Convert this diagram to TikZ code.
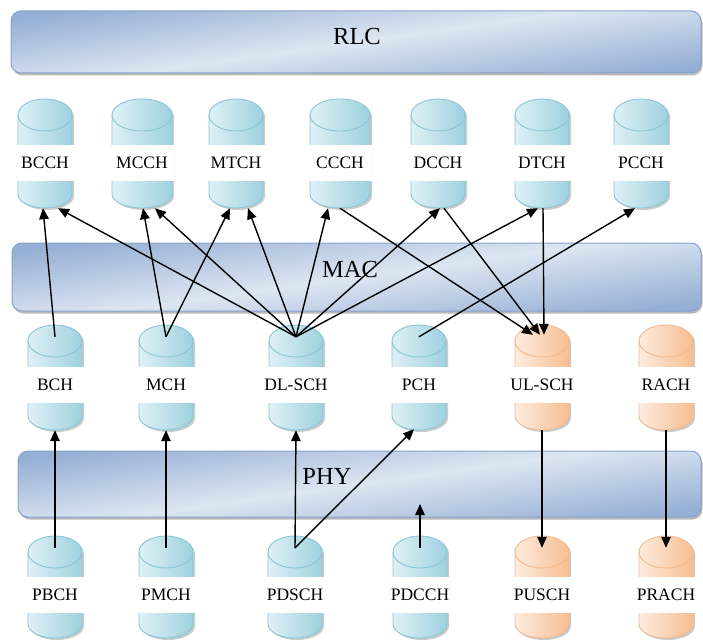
\documentclass[tikz,border=0pt]{standalone}
\usepackage{fontspec}
\setmainfont{Liberation Serif}
\usetikzlibrary{arrows.meta,shadows}

\definecolor{cylLight}{RGB}{222,241,246}
\definecolor{cylDark}{RGB}{158,209,223}
\definecolor{cylLine}{RGB}{138,197,214}
\definecolor{orLight}{RGB}{254,236,221}
\definecolor{orDark}{RGB}{247,190,146}
\definecolor{orLine}{RGB}{244,184,140}
\definecolor{barLight}{RGB}{221,230,242}
\definecolor{barDark}{RGB}{150,176,213}
\definecolor{barLine}{RGB}{135,163,205}

% one channel: colour prefix, name, x, y, width, height
\newcommand\chan[6][cyl]{%
  \pgfmathsetmacro\chanL{#3-#5/2}%
  \pgfmathsetmacro\chanR{#3+#5/2}%
  \pgfmathsetmacro\chanT{#4-#6/2+16}%
  \pgfmathsetmacro\chanB{#4+#6/2-14}%
  \path[chanbody,draw=#1Line,left color=#1Light,right color=#1Dark]
    (\chanL,\chanT) -- (\chanL,\chanB)
    arc[start angle=180,end angle=0,x radius=#5/2,y radius=14]
    -- (\chanR,\chanT)
    arc[start angle=0,end angle=-180,x radius=#5/2,y radius=16] -- cycle;
  \draw[chanedge,draw=#1Line] (\chanL,\chanT)
    arc[start angle=180,end angle=0,x radius=#5/2,y radius=16];
  \node[chanbox,minimum width=#5pt,minimum height=#6pt] (#2) at (#3,#4) {};
}

\begin{document}
\begin{tikzpicture}
  [x=1pt,y=-1pt,
   layer/.style={rectangle,rounded corners=10pt,draw=barLine,line width=1pt,
     top color=barDark,bottom color=barDark,middle color=barLight,shading angle=8,
     drop shadow={shadow xshift=1.5pt,shadow yshift=-2.5pt,fill=black!55,opacity=.5}},
   layertext/.style={font=\fontsize{24.5}{28}\selectfont},
   chanbody/.style={line width=.9pt,
     drop shadow={shadow xshift=2pt,shadow yshift=-2pt,fill=black!45,opacity=.45}},
   chanedge/.style={line width=.9pt},
   chanbox/.style={rectangle,inner sep=0pt},
   chanlabel/.style={fill=white,inner sep=0pt,minimum width=60pt,minimum height=36pt,
     font=\fontsize{17.5}{20}\selectfont},
   arr/.style={-{Triangle[length=11pt,width=9.5pt]},line width=1.4pt}]
  \useasboundingbox (0,0) rectangle (703,639);

  % layers
  \node[layer,minimum width=690pt,minimum height=62pt] (rlc) at (356,42) {};
  \node[layer,minimum width=689pt,minimum height=68pt] (mac) at (356.5,277) {};
  \node[layer,minimum width=683pt,minimum height=66pt] (phy) at (359.5,484) {};
  \node[layertext] (rlc-t) at (357,37) {RLC};
  \node[layertext] (mac-t) at (350,270) {MAC};
  \node[layertext] (phy-t) at (327,476) {PHY};

  % logical channels
  \chan{bcch}{45}{153.5}{54}{109}
  \chan{mcch}{142}{153.5}{60}{109}
  \chan{mtch}{236}{153.5}{54}{109}
  \chan{ccch}{340}{153.5}{60}{109}
  \chan{dcch}{438}{153.5}{54}{109}
  \chan{dtch}{542}{153.5}{54}{109}
  \chan{pcch}{641}{153.5}{54}{109}
  \node[chanlabel] (bcch-t) at (45,163) {BCCH};
  \node[chanlabel,minimum width=64pt] (mcch-t) at (142,163) {MCCH};
  \node[chanlabel] (mtch-t) at (236,163) {MTCH};
  \node[chanlabel,minimum width=64pt] (ccch-t) at (340,163) {CCCH};
  \node[chanlabel] (dcch-t) at (438,163) {DCCH};
  \node[chanlabel] (dtch-t) at (542,163) {DTCH};
  \node[chanlabel] (pcch-t) at (641,163) {PCCH};

  % transport channels
  \chan{bch}{55}{377.5}{54}{105}
  \chan{mch}{166}{377.5}{54}{105}
  \chan{dlsch}{296}{377.5}{54}{105}
  \chan{pch}{419}{377.5}{54}{105}
  \chan[or]{ulsch}{542}{377.5}{54}{105}
  \chan[or]{rach}{666}{377.5}{54}{105}
  \node[chanlabel] (bch-t) at (55,385) {BCH};
  \node[chanlabel] (mch-t) at (166,385) {MCH};
  \node[chanlabel] (dlsch-t) at (296,385) {DL-SCH};
  \node[chanlabel] (pch-t) at (419,385) {PCH};
  \node[chanlabel] (ulsch-t) at (542,385) {UL-SCH};
  \node[chanlabel] (rach-t) at (666,385) {RACH};

  % physical channels
  \chan{pbch}{55}{587}{54}{102}
  \chan{pmch}{166}{587}{54}{102}
  \chan{pdsch}{295}{587}{54}{102}
  \chan{pdcch}{420}{587}{54}{102}
  \chan[or]{pusch}{542}{587}{54}{102}
  \chan[or]{prach}{666}{587}{54}{102}
  \node[chanlabel] (pbch-t) at (55,595) {PBCH};
  \node[chanlabel] (pmch-t) at (166,595) {PMCH};
  \node[chanlabel,minimum width=64pt] (pdsch-t) at (295,595) {PDSCH};
  \node[chanlabel,minimum width=64pt] (pdcch-t) at (420,595) {PDCCH};
  \node[chanlabel] (pusch-t) at (542,595) {PUSCH};
  \node[chanlabel] (prach-t) at (666,595) {PRACH};
  \coordinate (pdcch-in) at (420,504);

  % PHY -> MAC
  \foreach \from/\to in {pbch/bch,pmch/mch,pdsch/dlsch}
    \draw[arr] ([yshift=-12pt]\from.north) -- (\to.south);
  \draw[arr] ([yshift=-12pt]pdsch.north) -- ([xshift=-5pt,yshift=1pt]pch.south);
  \draw[arr] ([yshift=-12pt]pdcch.north) -- (pdcch-in);
  % MAC -> PHY
  \foreach \from/\to in {ulsch/pusch,rach/prach}
    \draw[arr] (\from.south) -- ([yshift=-12pt]\to.north);

  % MAC -> RLC
  \draw[arr] ([yshift=-12pt]bch.north) -- ([xshift=-2pt]bcch.south);
  \foreach \to/\dx in {mcch/1,mtch/-6}
    \draw[arr] ([yshift=-12pt]mch.north) -- ([xshift=\dx pt]\to.south);
  \foreach \to/\dx in {bcch/13,mcch/13,mtch/12,ccch/-12,dcch/2,dtch/-4}
    \draw[arr] ([yshift=-12pt]dlsch.north) -- ([xshift=\dx pt]\to.south);
  \draw[arr] ([yshift=-12pt]pch.north) -- ([xshift=-6pt]pcch.south);
  % RLC -> MAC
  \foreach \from/\fx/\dx in {ccch/0/-9,dcch/6/-2,dtch/1/2}
    \draw[arr] ([xshift=\fx pt]\from.south) -- ([xshift=\dx pt,yshift=-10pt]ulsch.north);
\end{tikzpicture}
\end{document}
